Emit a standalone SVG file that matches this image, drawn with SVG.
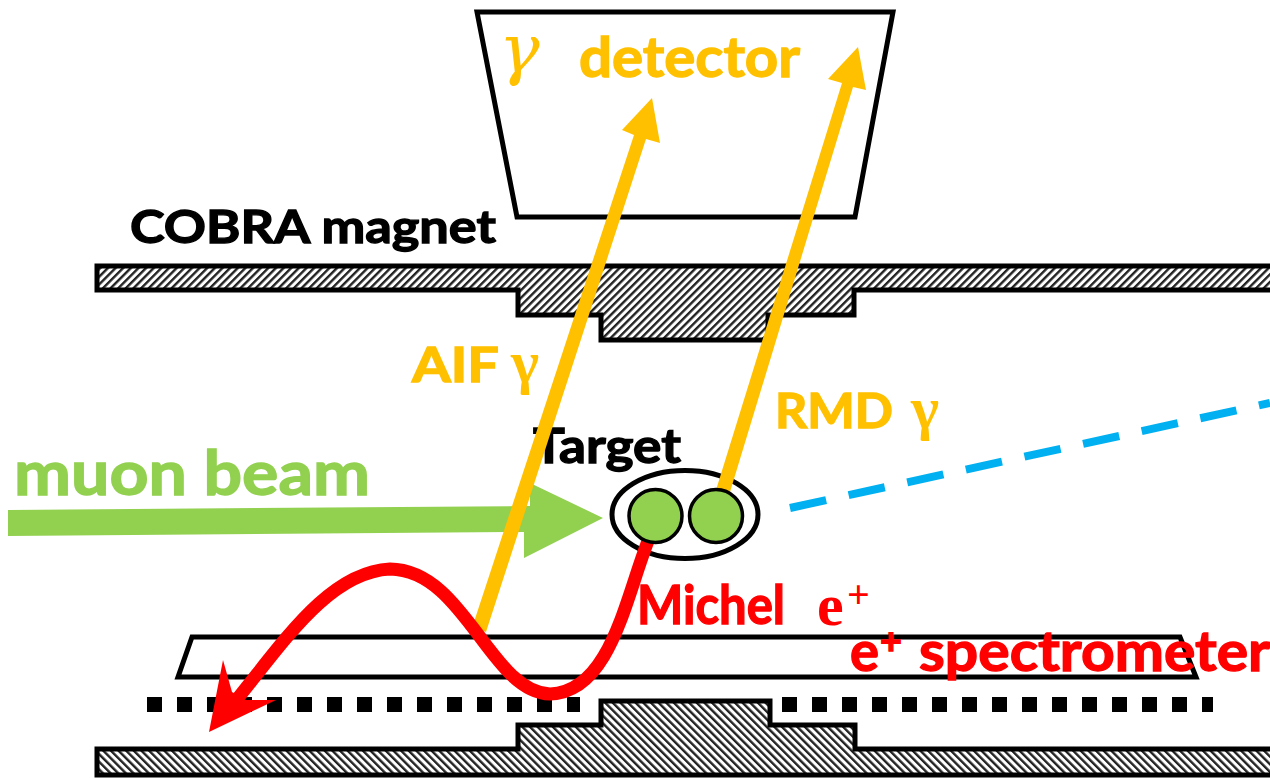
<svg xmlns="http://www.w3.org/2000/svg" width="1270" height="778" viewBox="0 0 1270 778">
<style>
.t{font-family:Lato,"Open Sans","Liberation Sans",sans-serif;font-weight:700;stroke-width:1.3}
.s{font-family:"Liberation Serif",serif;font-weight:700}
.o{fill:#ffffff;stroke:#000000;stroke-width:5}
.y{fill:#ffc000}.r{fill:#ff0000}.g{fill:#92d050}.k{fill:#000000}
.t.y{stroke:#ffc000}.t.r{stroke:#ff0000}.t.g{stroke:#92d050}.t.k{stroke:#000000}
.dots{fill:none;stroke:#000000;stroke-width:15;stroke-dasharray:15 15}
.c{fill:#92d050;stroke:#000000;stroke-width:3.5}
</style>
<defs>
<pattern id="hatchA" width="5.4" height="5.4" patternUnits="userSpaceOnUse" patternTransform="rotate(45)"><rect width="5.4" height="5.4" fill="#ffffff"/><rect width="2.4" height="5.4" fill="#222222"/></pattern>
<pattern id="hatchB" width="5.4" height="5.4" patternUnits="userSpaceOnUse" patternTransform="rotate(-45)"><rect width="5.4" height="5.4" fill="#ffffff"/><rect width="2.4" height="5.4" fill="#222222"/></pattern>
</defs>
<rect width="1270" height="778" fill="#ffffff"/>
<g id="cobra-top"><path d="M97 266H1274V290H854V315H768V340H601V315H518V290H97Z" fill="url(#hatchA)" stroke="#000" stroke-width="5"/></g>
<g id="cobra-bottom"><path d="M97 749H518V725H601V701H770V725H855V749H1274V775H97Z" fill="url(#hatchB)" stroke="#000" stroke-width="5"/></g>
<g id="gamma-detector"><path class="o" d="M477 12H893L855 217H517Z"/>
<text x="499" y="72" font-size="68" font-style="italic" font-family="'DejaVu Serif',serif" class="y">γ</text>
<text class="t y" x="579" y="77" font-size="56" textLength="221" lengthAdjust="spacingAndGlyphs">detector</text></g>
<g id="spectrometer"><path class="o" d="M192 637H1180L1196 677H178Z"/></g>
<g id="drift-chamber"><path class="dots" d="M147 704.500H580"/><path class="dots" d="M782 704.500H1213"/></g>
<g id="label-cobra"><text class="t k" x="130" y="243" font-size="46" textLength="366" lengthAdjust="spacingAndGlyphs">COBRA magnet</text></g>
<g id="label-target"><text class="t k" x="533" y="463" font-size="48" textLength="148" lengthAdjust="spacingAndGlyphs">Target</text></g>
<g id="label-muon"><text class="t g" x="14" y="495" font-size="62" textLength="356" lengthAdjust="spacingAndGlyphs">muon beam</text></g>
<g id="target"><ellipse cx="685" cy="514.500" rx="73" ry="44" fill="#ffffff" stroke="#000" stroke-width="5"/></g>
<g id="connectors">
<path id="muon-beam" class="g" d="M8 510L530 506V483L603 518L524 558V532L8 536Z"/>
<path id="blue-dash" d="M790 508L1270 403" fill="none" stroke="#00b0f0" stroke-width="8" stroke-dasharray="37 23"/>
<path id="aif" class="y" d="M472 628L634 135L622 130L652 98L660 143L646 139L486 632Z"/>
<path id="rmd" class="y" d="M716 490L842 83L828 79L858 47L866 90L853 87L730 492Z"/>
<path id="michel" d="M648 541C625 600 610 692 550 694C490 692 465 570 390 569C330 572 285 640 238 698" fill="none" stroke="#ff0000" stroke-width="13"/>
<path id="michel-head" class="r" d="M223 660L232 692L245 700H276L209 732Z"/>
</g>
<g id="target-discs"><circle class="c" cx="655.500" cy="516" r="26.500"/><circle class="c" cx="716" cy="516" r="26.500"/></g>
<g id="labels">
<text class="t y" x="412" y="382" font-size="47" textLength="87" lengthAdjust="spacingAndGlyphs">AIF</text>
<text class="s y" x="511" y="382" font-size="60">γ</text>
<text class="t y" x="775" y="428" font-size="47" textLength="118" lengthAdjust="spacingAndGlyphs">RMD</text>
<text class="s y" x="911" y="428" font-size="60">γ</text>
<text class="t r" x="637" y="624" font-size="53" textLength="148" lengthAdjust="spacingAndGlyphs">Michel</text>
<text class="s r" x="817" y="625" font-size="60">e</text>
<text class="s r" x="847" y="608" font-size="40" font-weight="400">+</text>
<text class="t r" x="850" y="671" font-size="56" textLength="29" lengthAdjust="spacingAndGlyphs">e</text>
<text class="t r" x="880" y="654" font-size="36" textLength="22" lengthAdjust="spacingAndGlyphs">+</text>
<text class="t r" x="919" y="671" font-size="56" textLength="351" lengthAdjust="spacingAndGlyphs">spectrometer</text>
</g>
</svg>
